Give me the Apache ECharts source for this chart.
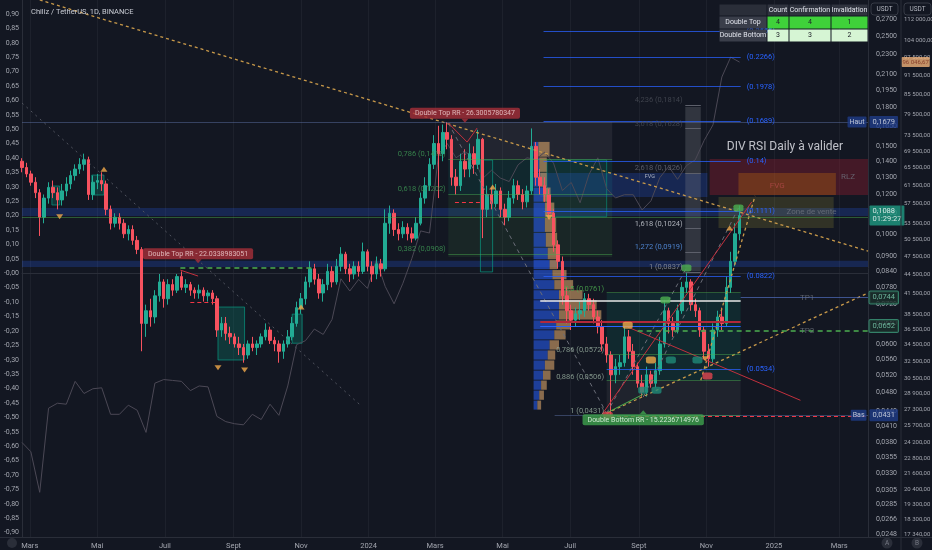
<!DOCTYPE html>
<html><head><meta charset="utf-8">
<script src="https://cdn.jsdelivr.net/npm/echarts@6/dist/echarts.min.js"></script>
<style>html,body{margin:0;padding:0;background:#131722;}#c{width:932px;height:550px;}</style>
</head><body><div id="c"></div>
<script>
const DAY = 86400000;
const D = s => Date.parse(s + 'T00:00:00Z');
const L = v => Math.log10(v);

// ---------- DATA ----------
const candleStart = '2023-02-22';          // one candle every 4 days
const candleStepDays = 4;
// [open, close, low, high]  CHZ / USDT
const chzOHLC = [
[.140,.136,.133,.142],[.136,.132,.130,.139],[.132,.127,.125,.134],[.127,.121,.118,.130],[.121,.108,.099,.123],
[.108,.118,.105,.120],[.118,.124,.115,.127],[.124,.121,.118,.128],[.121,.117,.112,.124],[.117,.122,.114,.126],
[.122,.126,.119,.130],[.126,.131,.123,.134],[.131,.135,.128,.138],[.135,.138,.132,.142],[.138,.141,.134,.145],
[.141,.120,.117,.143],[.120,.127,.117,.131],[.127,.128,.123,.132],[.128,.126,.122,.133],[.126,.112,.109,.128],
[.112,.105,.102,.114],[.105,.108,.103,.110],[.108,.105,.102,.110],[.105,.100,.098,.107],[.100,.102,.097,.104],
[.102,.097,.095,.104],[.097,.093,.091,.099],[.093,.066,.058,.094],[.066,.070,.062,.072],[.070,.068,.065,.074],
[.068,.075,.066,.077],[.075,.080,.073,.083],[.080,.074,.071,.081],[.074,.079,.072,.081],[.079,.077,.075,.081],
[.077,.082,.076,.083],[.082,.078,.077,.084],[.078,.079,.076,.081],[.079,.077,.075,.080],[.077,.076,.074,.078],
[.076,.077,.074,.079],[.077,.075,.073,.078],[.075,.076,.073,.077],[.076,.074,.072,.077],[.074,.064,.062,.075],
[.064,.066,.062,.068],[.066,.063,.061,.068],[.063,.062,.060,.065],[.062,.060,.059,.063],[.060,.059,.057,.062],
[.059,.057,.055,.060],[.057,.060,.056,.061],[.060,.059,.058,.062],[.059,.060,.057,.061],[.060,.062,.059,.063],
[.062,.064,.061,.066],[.064,.061,.060,.065],[.061,.060,.058,.062],[.060,.058,.055,.061],[.058,.060,.056,.061],
[.060,.062,.059,.064],[.062,.066,.061,.068],[.066,.071,.065,.073],[.071,.074,.069,.076],[.074,.080,.072,.082],
[.080,.085,.078,.088],[.085,.081,.079,.087],[.081,.076,.074,.083],[.076,.079,.073,.081],[.079,.084,.077,.087],
[.084,.080,.078,.086],[.080,.086,.079,.089],[.086,.091,.084,.094],[.091,.085,.083,.092],[.085,.083,.080,.087],
[.083,.086,.081,.088],[.086,.084,.082,.088],[.084,.092,.083,.096],[.092,.086,.084,.093],[.086,.083,.080,.088],
[.083,.087,.081,.090],[.087,.085,.082,.089],[.085,.105,.084,.112],[.105,.110,.100,.114],[.110,.102,.099,.112],
[.102,.100,.097,.105],[.100,.103,.098,.106],[.103,.100,.097,.105],[.100,.098,.096,.103],[.098,.105,.097,.108],
[.105,.118,.104,.121],[.118,.125,.115,.130],[.125,.138,.122,.142],[.138,.152,.135,.158],[.152,.145,.118,.165],
[.145,.160,.140,.166],[.160,.155,.148,.1679],[.155,.130,.125,.158],[.130,.125,.120,.135],[.125,.140,.122,.145],
[.140,.135,.130,.148],[.135,.145,.130,.152],[.145,.138,.132,.150],[.138,.155,.135,.162],[.155,.112,.098,.156],
[.112,.120,.108,.125],[.120,.115,.112,.124],[.115,.122,.113,.126],[.122,.112,.108,.124],[.112,.108,.104,.115],
[.108,.118,.106,.122],[.118,.125,.115,.129],[.125,.120,.117,.128],[.120,.116,.112,.123],[.116,.122,.113,.125],
[.122,.150,.120,.163],[.150,.130,.125,.153],[.130,.125,.120,.135],[.125,.120,.116,.130],[.120,.110,.107,.123],
[.110,.095,.092,.112],[.095,.088,.085,.097],[.088,.075,.072,.090],[.075,.070,.066,.078],[.070,.067,.064,.072],
[.067,.069,.065,.071],[.069,.070,.067,.073],[.070,.074,.068,.076],[.074,.072,.070,.0757],[.072,.068,.066,.074],
[.068,.065,.063,.070],[.065,.060,.058,.067],[.060,.057,.055,.062],[.057,.052,.0431,.058],[.052,.054,.050,.056],
[.054,.055,.052,.057],[.055,.062,.054,.065],[.062,.058,.056,.064],[.058,.054,.052,.060],[.054,.050,.049,.055],
[.050,.048,.047,.052],[.048,.052,.047,.054],[.052,.050,.049,.053],[.050,.053,.049,.055],[.053,.060,.052,.062],
[.060,.070,.059,.0736],[.070,.066,.063,.071],[.066,.064,.062,.068],[.064,.070,.063,.072],[.070,.078,.069,.080],
[.078,.080,.076,.0837],[.080,.072,.070,.081],[.072,.070,.068,.074],[.070,.064,.062,.071],[.064,.058,.056,.065],
[.058,.056,.054,.060],[.056,.064,.055,.066],[.064,.068,.062,.070],[.068,.066,.064,.071],[.066,.078,.065,.082],
[.078,.088,.076,.092],[.088,.100,.086,.105],[.100,.1088,.097,.114]
];

const btcStart = '2023-02-22';             // one point every 8 days
const btcStepDays = 8;
const btcClose = [
24200,23400,20200,27400,27900,27800,30200,28900,29400,29500,26800,26800,27700,27200,25100,30000,30400,30300,30200,29200,
29700,29600,26600,26100,25900,25800,26800,26300,27800,26700,29700,34500,35000,36500,35800,37800,43800,41900,43700,42300,
46900,42600,40000,43100,47100,52100,51700,68300,71500,67900,69400,68000,63000,64900,63100,62300,66200,67900,67500,69300,
66600,60300,62100,57700,63900,67900,60700,58700,59400,59400,56200,58100,63200,65800,62800,66000,67400,72300,76500,91000,
97800,96046.67
];

// axis ticks
const xTicks = ['2023-03-01','2023-05-01','2023-07-01','2023-09-01','2023-11-01','2024-01-01','2024-03-01','2024-05-01','2024-07-01','2024-09-01','2024-11-01','2025-01-01','2025-03-01'];
const monthLabels = ['', '', 'Mars', '', 'Mai', '', 'Juil', '', 'Sept', '', 'Nov', ''];
const leftTicks = [0.9,0.85,0.8,0.75,0.7,0.65,0.6,0.55,0.5,0.45,0.4,0.35,0.3,0.25,0.2,0.15,0.1,0.05,0,-0.05,-0.1,-0.15,-0.2,-0.25,-0.3,-0.35,-0.4,-0.45,-0.5,-0.55,-0.6,-0.65,-0.7,-0.75,-0.8,-0.85,-0.9];
const chzTicks = [0.27,0.25,0.23,0.21,0.195,0.18,0.165,0.15,0.14,0.13,0.12,0.11,0.10,0.09,0.084,0.078,0.072,0.066,0.060,0.056,0.052,0.048,0.044,0.041,0.038,0.0355,0.033,0.0305,0.0285,0.0266,0.0248];
const btcTicks = [112000,104000,97500,91500,85500,79500,73500,69500,65500,61500,57500,53500,50500,47500,44500,41500,38500,36500,34500,32500,30500,28900,27300,25700,24200,22800,21600,20400,19300,18300,17340];

// volume profile (price level, buy volume, sell volume)
const vpAnchor = '2024-05-29';
const vpPrices = [0.1477,0.1374,0.1283,0.1197,0.1116,0.1040,0.0971,0.0906,0.0865,0.0826,0.0788,0.0752,0.0718,0.0685,0.0654,0.0625,0.0596,0.0569,0.0543,0.0518,0.0495,0.0472,0.0451];
const vpBuy  = [5,6,7,10,12,12,13,15,17,20,22,27,27,27,24,22,17,15,12,10,8,6,4];
const vpSell = [12,8,7,8,10,12,12,10,8,15,20,25,40,45,15,12,10,8,10,8,6,5,4];

// full-width zones [low, high]
const zoneBands = [[0.1086, 0.1127], [0.0857, 0.0882]];
// fibonacci levels
const fibBlue = [0.2555, 0.2266, 0.1978, 0.1689, 0.14, 0.1111, 0.0822, 0.0534];
const fibExt = [['4,236', 0.1814], ['3,618', 0.1628], ['2,618', 0.1326], ['1,618', 0.1024], ['1,272', 0.0919], ['1', 0.0837]];
const fibLeft = [['0,786', 0.1412], ['0,618', 0.1202], ['0,382', 0.0908]];
const fibLow = [['0,5', 0.0761], ['0,786', 0.0572], ['0,886', 0.0506], ['1', 0.0431]];

// boxes [from, to, low, high, kind]
const boxes = [
  ['2024-03-13','2024-08-08',0.1408,0.1679,'gray'],
  ['2024-03-13','2024-08-08',0.1197,0.1408,'teal'],
  ['2024-03-13','2024-08-08',0.0898,0.1197,'green'],
  ['2024-06-04','2024-11-02',0.1186,0.1325,'fvgBlue'],
  ['2024-06-10','2024-08-03',0.1082,0.1408,'tealOutline'],
  ['2024-10-13','2024-10-27',0.0841,0.1800,'column'],
  ['2024-08-03','2024-12-02',0.0507,0.0760,'teal2'],
  ['2024-08-03','2024-12-02',0.0431,0.0507,'gray2'],
  ['2024-11-04','2025-03-27',0.1197,0.1414,'rlz'],
  ['2024-11-30','2025-02-26',0.1197,0.1325,'fvgOrange'],
  ['2024-11-12','2025-02-24',0.1027,0.1186,'sell'],
  ['2023-03-21','2023-03-28',0.1143,0.1248,'pat'],
  ['2023-04-26','2023-05-07',0.1197,0.1313,'pat'],
  ['2023-08-18','2023-09-11',0.0557,0.0712,'pat'],
  ['2023-10-24','2023-11-02',0.0602,0.0689,'pat'],
  ['2024-04-11','2024-04-22',0.0838,0.1408,'patOutline']
];

// segments [from, p1, to, p2, kind]
const segments = [
  ['2023-03-10',0.2957,'2025-03-27',0.0923,'yellowDot'],
  ['2023-02-22',0.1834,'2023-12-25',0.0451,'grayDot'],
  ['2024-03-13',0.1671,'2024-08-03',0.0435,'grayDash'],
  ['2024-08-03',0.0435,'2025-03-27',0.0760,'yellowDot'],
  ['2024-10-27',0.0507,'2024-12-15',0.1192,'yellowDot'],
  ['2024-08-03',0.0435,'2024-10-14',0.0853,'grayDash'],
  ['2024-09-05',0.0469,'2024-11-30',0.1127,'grayDash'],
  ['2024-07-26',0.0421,'2024-12-12',0.1159,'red'],
  ['2024-08-22',0.0649,'2025-01-25',0.0462,'red'],
  ['2024-08-04',0.0437,'2024-09-05',0.0475,'green'],
  ['2024-03-19',0.1159,'2024-04-11',0.1159,'redDash'],
  ['2024-03-13',0.1671,'2024-03-30',0.1530,'red'],
  ['2024-03-30',0.1530,'2024-04-08',0.1633,'red'],
  ['2023-07-15',0.0845,'2023-07-31',0.0822,'red'],
  ['2023-07-24',0.0729,'2023-08-16',0.0729,'redDash'],
  ['2023-07-15',0.0853,'2023-11-13',0.0853,'greenDash'],
  ['2023-02-22',0.1679,'2025-03-27',0.1679,'haut'],
  ['2024-06-17',0.0431,'2025-03-27',0.0431,'haut'],
  ['2024-08-06',0.0430,'2025-03-27',0.0430,'redDash'],
  ['2023-02-22',0.1082,'2025-03-27',0.1082,'greenThin'],
  ['2024-12-02',0.0744,'2025-03-27',0.0744,'tp1'],
  ['2024-08-31',0.0638,'2025-03-27',0.0638,'greenDash'],
  ['2024-06-04',0.0732,'2024-12-02',0.0732,'white'],
  ['2024-06-04',0.0664,'2024-12-02',0.0664,'redThick'],
  ['2024-06-04',0.0652,'2024-12-02',0.0652,'blue']
];

// text annotations [text, date, price, kind]
const notes = [
  ['Double Top RR - 26.3005780347','2024-03-28',0.1690,'redTag'],
  ['Double Top RR - 22.0338983051','2023-07-31',0.0880,'redTag'],
  ['Double Bottom RR - 15.2236714976','2024-09-05',0.0437,'greenTag'],
  ['DIV RSI Daily à valider','2025-01-11',0.1495,'big'],
  ['RLZ','2025-03-09',0.1301,'dim'],
  ['FVG','2025-01-04',0.1248,'fvg'],
  ['Zone de vente','2025-02-04',0.1106,'dim'],
  ['TP1','2025-01-31',0.0743,'dim'],
  ['TP2','2025-01-31',0.0638,'dim'],
  ['FVG','2024-09-11',0.1301,'tiny']
];
// pivot triangles [date, price, dir]
const pivots = [
  ['2023-03-28',0.1082,'down'],['2023-05-07',0.1349,'up'],['2023-08-18',0.0537,'down'],['2023-09-11',0.0532,'down'],
  ['2023-11-01',0.0712,'up'],['2024-04-22',0.1242,'up'],['2024-06-12',0.1078,'down'],['2024-11-22',0.1027,'up'],['2024-10-31',0.0560,'down']
];
// pattern flags [date, price, kind]
const flags = [
  ['2024-09-25',0.0736,'g'],['2024-10-14',0.0853,'g'],['2024-11-30',0.1127,'g'],['2024-08-22',0.0654,'o'],
  ['2024-09-12',0.0557,'o'],['2024-11-02',0.0517,'r'],['2024-08-04',0.0431,'r'],['2024-09-05',0.0484,'t'],
  ['2024-09-17',0.0484,'t'],['2024-09-30',0.0557,'t'],['2024-10-24',0.0557,'t']
];
// price tags on the axes [text, price, kind]
const tagsA = [['0,1679',0.1679,'blue'],['0,1088\n01:29:27',0.1088,'green'],['0,0744',0.0744,'out'],['0,0652',0.0652,'out'],['0,0431',0.0431,'blue']];
const sideTags = [['Haut',0.1679],['Bas',0.0431]];
const tagsB = [['96 046,67',96046.67]];
// table
const tableHeader = ['', 'Count', 'Confirmation', 'Invalidation'];
const tableRowNames = ['Double Top', 'Double Bottom'];
const tableValues = [[4,4,1],[3,3,2]];

// ---------- STYLES ----------
const X_MIN = D('2023-02-22'), X_MAX = D('2025-03-27');
const FONT = 'Roboto, "Noto Sans", sans-serif';
const TXT = '#a3a6af';
const lineStyles = {
  yellowDot:{color:'#c99a4a',type:[3,3],width:1.3},
  grayDot:{color:'#50535e',type:[2,4],width:1},
  grayDash:{color:'#6a6d78',type:[4,4],width:1},
  red:{color:'#c2303d',type:'solid',width:1},
  redDash:{color:'#f23645',type:[4,3],width:1},
  green:{color:'#4caf50',type:'solid',width:1},
  greenDash:{color:'#4caf50',type:[5,4],width:1.5},
  haut:{color:'rgba(90,110,160,0.5)',type:'solid',width:1},
  greenThin:{color:'rgba(76,175,80,0.45)',type:'solid',width:1},
  tp1:{color:'rgba(80,110,190,0.7)',type:'solid',width:1},
  white:{color:'#e8e8e8',type:'solid',width:1.5},
  redThick:{color:'#b2283a',type:'solid',width:2},
  blue:{color:'#2962ff',type:'solid',width:1},
  fibBlue:{color:'rgba(41,98,255,0.75)',type:'solid',width:1},
  fibGray:{color:'#5d606b',type:'solid',width:1},
  fibGreen:{color:'rgba(76,175,80,0.45)',type:'solid',width:1}
};
const boxStyles = {
  gray:{color:'rgba(120,123,134,0.15)'},
  teal:{color:'rgba(8,153,129,0.13)'},
  green:{color:'rgba(76,175,80,0.10)'},
  fvgBlue:{color:'rgba(41,98,255,0.22)'},
  tealOutline:{color:'rgba(8,153,129,0.07)',borderColor:'rgba(8,153,129,0.6)',borderWidth:1},
  column:{color:'rgba(120,123,134,0.30)'},
  teal2:{color:'rgba(8,153,129,0.14)'},
  gray2:{color:'rgba(120,123,134,0.12)'},
  rlz:{color:'rgba(160,30,50,0.35)'},
  fvgOrange:{color:'rgba(255,152,0,0.22)'},
  sell:{color:'rgba(190,180,60,0.18)'},
  pat:{color:'rgba(8,153,129,0.25)',borderColor:'rgba(8,153,129,0.7)',borderWidth:1},
  patOutline:{color:'rgba(8,153,129,0.05)',borderColor:'rgba(8,153,129,0.7)',borderWidth:1}
};
const bandStyle = {color:'rgba(41,98,255,0.22)'};

// ---------- BUILD ----------
const candleData = chzOHLC.map((c,i)=>[D(candleStart)+i*candleStepDays*DAY, L(c[0]), L(c[1]), L(c[2]), L(c[3])]);
const btcData = btcClose.map((v,i)=>[D(btcStart)+i*btcStepDays*DAY, L(v)]);

const areaData = [];
zoneBands.forEach(b=>areaData.push([{coord:[X_MIN,L(b[0])],itemStyle:bandStyle},{coord:[X_MAX,L(b[1])]}]));
boxes.forEach(b=>areaData.push([{coord:[D(b[0]),L(b[2])],itemStyle:boxStyles[b[4]]},{coord:[D(b[1]),L(b[3])]}]));

const lineData = [];
segments.forEach(s=>lineData.push([{coord:[D(s[0]),L(s[1])],lineStyle:lineStyles[s[4]]},{coord:[D(s[2]),L(s[3])]}]));
fibBlue.forEach(p=>lineData.push([{coord:[D(p<0.06?'2024-08-03':'2024-06-07'),L(p)],lineStyle:lineStyles.fibBlue,
  label:{show:true,position:'end',formatter:'('+p+')',color:'#2962ff',fontSize:7.5,fontFamily:FONT,distance:6}},{coord:[D('2024-12-02'),L(p)]}]));
fibExt.forEach(f=>lineData.push([{coord:[D('2024-10-13'),L(f[1])],lineStyle:lineStyles.fibGray},{coord:[D('2024-10-27'),L(f[1])]}]));
fibLeft.forEach(f=>lineData.push([{coord:[D('2024-03-13'),L(f[1])],lineStyle:lineStyles.fibGreen},{coord:[D('2024-08-08'),L(f[1])]}]));
fibLow.forEach(f=>lineData.push([{coord:[D('2024-08-03'),L(f[1])],lineStyle:lineStyles.fibGreen},{coord:[D('2024-12-02'),L(f[1])]}]));

const fmt4 = p => p.toFixed(4).replace('.', ',');
const labelItems = [];
const fibLabelColors = {'4,236':'#4a4d57','3,618':'#4a4d57','2,618':'#6a6d78','1,618':'#d1d4dc','1,272':'#5b9cf6','1':'#9598a1'};
fibExt.forEach(f=>labelItems.push({value:[D('2024-10-12'),L(f[1])],label:{show:true,position:'left',distance:1,offset:[0,-5],formatter:f[0]+' ('+fmt4(f[1])+')',color:fibLabelColors[f[0]],fontSize:7.5}}));
fibLeft.forEach(f=>labelItems.push({value:[D('2024-03-12'),L(f[1])],label:{show:true,position:'left',distance:1,offset:[0,-5],formatter:f[0]+' ('+fmt4(f[1])+')',color:'#3f9a55',fontSize:7.5}}));
fibLow.forEach(f=>labelItems.push({value:[D('2024-08-02'),L(f[1])],label:{show:true,position:'left',distance:1,offset:[0,-4],formatter:f[0]+' ('+fmt4(f[1])+')',color:f[0]==='0,5'?'#4caf50':'#9ab0a0',fontSize:7.5}}));

const noteStyles = {
  redTag:{symbol:'triangle',symbolRotate:180,symbolSize:[7,4],color:'#a8303a',label:{position:'top',distance:0,color:'#f3d6d6',backgroundColor:'#a8303a',padding:[2,5],borderRadius:2,fontSize:7}},
  greenTag:{symbol:'triangle',symbolRotate:0,symbolSize:[7,4],color:'#3fa34d',label:{position:'bottom',distance:0,color:'#f2fff2',backgroundColor:'#3fa34d',padding:[2,5],borderRadius:2,fontSize:7}},
  big:{label:{position:'inside',color:'#e8eaf0',fontSize:12}},
  dim:{label:{position:'inside',color:'#6f7480',fontSize:8}},
  fvg:{label:{position:'inside',color:'#b24a4a',fontSize:8}},
  tiny:{label:{position:'inside',color:'#d1d4dc',fontSize:5.5}}
};
notes.forEach(n=>{
  const st = noteStyles[n[3]];
  labelItems.push({value:[D(n[1]),L(n[2])],symbol:st.symbol||'circle',symbolRotate:st.symbolRotate||0,symbolSize:st.symbolSize||1,
    itemStyle:{color:st.color||'rgba(0,0,0,0)'},label:Object.assign({show:true,formatter:n[0]},st.label)});
});
pivots.forEach(p=>labelItems.push({value:[D(p[0]),L(p[1])],symbol:'triangle',symbolRotate:p[2]==='down'?180:0,symbolSize:[7,5],itemStyle:{color:'#f0a94a'}}));
const flagColors = {g:'#4caf50',o:'#f0a94a',r:'#e0454f',t:'#1f8a78'};
flags.forEach(f=>labelItems.push({value:[D(f[0]),L(f[1])],symbol:'roundRect',symbolSize:[10,7],itemStyle:{color:flagColors[f[2]]}}));
const tagStyles = {
  blue:{color:'#e0e3eb',backgroundColor:'#1f3c88'},
  green:{color:'#ffffff',backgroundColor:'#1f9b83',lineHeight:8},
  out:{color:'#7fd6b5',backgroundColor:'#1c2f2c',borderColor:'#3d9c7c',borderWidth:1}
};
tagsA.forEach(t=>labelItems.push({value:[X_MAX-0.01*DAY,L(t[1])],label:Object.assign({show:true,position:'right',distance:1,formatter:t[0],fontSize:7.5,padding:[2,3],borderRadius:1},tagStyles[t[2]])}));
sideTags.forEach(t=>labelItems.push({value:[X_MAX-0.01*DAY,L(t[1])],label:{show:true,position:'left',distance:1,formatter:t[0],fontSize:7,padding:[2,2],color:'#e0e3eb',backgroundColor:'#1f3c88',borderRadius:1}}));
const tagBItems = tagsB.map(t=>({value:[X_MAX-0.01*DAY,L(t[1])],label:{show:true,position:'right',distance:33,formatter:t[0],fontSize:6,padding:[2,1],color:'#7a2b1b',backgroundColor:'#f0b27a',borderRadius:1}}));

const VP_DAYS_PER_UNIT = 0.85;
const vpData = vpPrices.map(p=>[D(vpAnchor),L(p)]);

// table graphic
const colX = [719,767,789,831,868], rowY = [4,16,29,42];
const g = [];
for (let r=0;r<3;r++) for (let c=0;c<4;c++){
  let fill, txt, tc='#e0e3eb';
  if (r===0){ fill = c===0?'#2a2e39':'#2f333e'; txt = tableHeader[c]; }
  else if (c===0){ fill='#3a3e4a'; txt=tableRowNames[r-1]; }
  else { fill = r===1?'#3fd13a':'#d6f5d4'; txt=String(tableValues[r-1][c-1]); tc='#20232b'; }
  g.push({type:'rect',shape:{x:colX[c]+0.5,y:rowY[r]+0.5,width:colX[c+1]-colX[c]-1,height:rowY[r+1]-rowY[r]-1},style:{fill},z:100});
  g.push({type:'text',x:(colX[c]+colX[c+1])/2,y:(rowY[r]+rowY[r+1])/2,style:{text:txt,fill:tc,fontSize:7,fontFamily:FONT,align:'center',verticalAlign:'middle'},z:101});
}
['USDT','USDT'].forEach((t,i)=>{
  const x = i===0?871:904;
  g.push({type:'rect',shape:{x:x,y:3,width:27,height:12,r:3},style:{fill:'#131722',stroke:'#363a45',lineWidth:1},z:100});
  g.push({type:'text',x:x+13.5,y:9,style:{text:t,fill:'#b2b5be',fontSize:6.5,fontFamily:FONT,align:'center',verticalAlign:'middle'},z:101});
});
['A','B'].forEach((t,i)=>{
  const x = i===0?887:917;
  g.push({type:'circle',shape:{cx:x,cy:543,r:5.5},style:{fill:'#2a2e39'},z:100});
  g.push({type:'text',x:x,y:543,style:{text:t,fill:'#787b86',fontSize:6.5,fontFamily:FONT,align:'center',verticalAlign:'middle'},z:101});
});
g.push({type:'circle',shape:{cx:12,cy:543,r:5},style:{fill:'#2a2e39'},z:100});
g.push({type:'line',shape:{x1:901,y1:0,x2:901,y2:550},style:{stroke:'#2a2e39',lineWidth:1},z:50});
g.push({type:'line',shape:{x1:0,y1:537.5,x2:932,y2:537.5},style:{stroke:'#2a2e39',lineWidth:1},z:50});

const option = {
  animation:false,
  backgroundColor:'#131722',
  textStyle:{fontFamily:FONT},
  title:{text:'Chiliz / TetherUS, 1D, BINANCE',left:26,top:3,textStyle:{color:'#c9ccd4',fontSize:7.5,fontWeight:'normal',fontFamily:FONT}},
  grid:{left:22,right:64,top:0,bottom:13,containLabel:false,outerBoundsMode:'none'},
  xAxis:{type:'value',min:X_MIN,max:X_MAX,
    axisLabel:{customValues:xTicks.map(D),color:TXT,fontSize:7.5,margin:5,fontFamily:FONT,
      formatter:v=>{const d=new Date(v);const m=d.getUTCMonth();return m===0?String(d.getUTCFullYear()):monthLabels[m];}},
    axisTick:{show:false,customValues:xTicks.map(D)},
    axisLine:{show:true,lineStyle:{color:'#2a2e39'}},
    splitLine:{show:true,lineStyle:{color:'#1d212c',width:1}}},
  yAxis:[
    {type:'value',position:'left',min:-0.915,max:0.9486,
      axisLabel:{customValues:leftTicks,color:TXT,fontSize:7,margin:3,fontFamily:FONT,formatter:v=>v===0?'-0,00':v.toFixed(2).replace('.',',')},
      axisTick:{show:false},axisLine:{show:true,lineStyle:{color:'#2a2e39'}},splitLine:{show:false}},
    {type:'value',position:'right',min:L(0.02451),max:L(0.2957),
      axisLabel:{customValues:chzTicks.map(L),color:TXT,fontSize:7,margin:8,fontFamily:FONT,formatter:v=>Math.pow(10,v).toFixed(4).replace('.',',')},
      axisTick:{show:false},axisLine:{show:true,lineStyle:{color:'#2a2e39'}},splitLine:{show:false}},
    {type:'value',position:'right',offset:33,min:L(17180),max:L(120300),
      axisLabel:{customValues:btcTicks.map(L),color:TXT,fontSize:6,margin:3,fontFamily:FONT,
        formatter:v=>String(Math.round(Math.pow(10,v))).replace(/\B(?=(\d{3})+(?!\d))/g,' ')+',00'},
      axisTick:{show:false},axisLine:{show:false},splitLine:{show:false}}
  ],
  series:[
    {type:'line',name:'zones',yAxisIndex:1,data:[],z:1,silent:true,
      markArea:{silent:true,data:areaData}},
    {type:'line',name:'BTC',yAxisIndex:2,data:btcData,showSymbol:false,z:2,silent:true,
      lineStyle:{color:'#4b4855',width:1}},
    {type:'custom',name:'profile',yAxisIndex:1,data:vpData,z:2,silent:true,
      renderItem:(params,api)=>{
        const i=params.dataIndex, p=vpPrices[i];
        const up = i>0?Math.sqrt(p*vpPrices[i-1]):p*Math.sqrt(p/vpPrices[i+1]);
        const dn = i<vpPrices.length-1?Math.sqrt(p*vpPrices[i+1]):p*Math.sqrt(p/vpPrices[i-1]);
        const x0=D(vpAnchor);
        const a=api.coord([x0,L(up)]);
        const b=api.coord([x0+vpBuy[i]*VP_DAYS_PER_UNIT*DAY,L(dn)]);
        const c=api.coord([x0+(vpBuy[i]+vpSell[i])*VP_DAYS_PER_UNIT*DAY,L(dn)]);
        const h=b[1]-a[1]-0.8;
        return {type:'group',children:[
          {type:'rect',shape:{x:a[0],y:a[1],width:b[0]-a[0],height:h},style:{fill:'rgba(38,90,235,0.6)'}},
          {type:'rect',shape:{x:b[0],y:a[1],width:c[0]-b[0],height:h},style:{fill:'rgba(210,160,104,0.62)'}}
        ]};
      }},
    {type:'candlestick',name:'CHZ',yAxisIndex:1,data:candleData,barWidth:3,z:3,silent:true,
      itemStyle:{color:'#22ab94',color0:'#f7525f',borderColor:'#22ab94',borderColor0:'#f7525f',borderWidth:1}},
    {type:'line',name:'drawings',yAxisIndex:1,data:[],z:4,silent:true,
      markLine:{silent:true,symbol:['none','none'],label:{show:false},lineStyle:{type:'solid'},data:lineData}},
    {type:'scatter',name:'labels',yAxisIndex:1,data:labelItems,z:6,silent:true,clip:false,
      symbolSize:1,itemStyle:{color:'rgba(0,0,0,0)'},label:{show:false,fontFamily:FONT}},
    {type:'scatter',name:'labelsB',yAxisIndex:2,data:tagBItems,z:6,silent:true,clip:false,
      symbolSize:1,itemStyle:{color:'rgba(0,0,0,0)'},label:{fontFamily:FONT}}
  ],
  graphic:g
};
const chart = echarts.init(document.getElementById('c'));
chart.setOption(option);
</script></body></html>
